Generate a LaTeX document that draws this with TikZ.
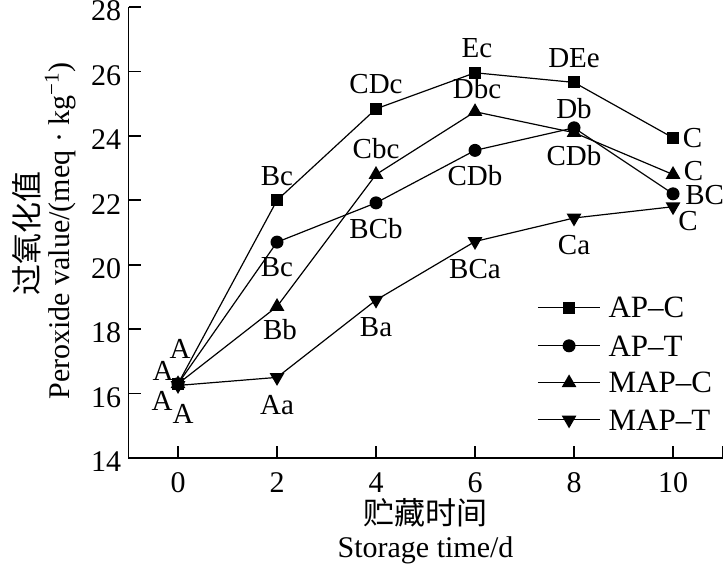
\documentclass[tikz,border=0pt]{standalone}
\usepackage{fontspec}
\setmainfont{Liberation Serif}
\newfontfamily\cjk{Noto Sans CJK SC}
\usetikzlibrary{positioning,shapes.geometric}
\begin{document}
\begin{tikzpicture}[x=24.75pt,y=16.1pt,
	every node/.style={font=\fontsize{14.5}{16}\selectfont,inner sep=0},
	sq/.style={rectangle,fill,minimum size=6pt},
	ci/.style={circle,fill,minimum size=6.5pt},
	tu/.style={regular polygon,regular polygon sides=3,fill,minimum size=8.5pt},
	td/.style={tu,shape border rotate=180},
	ticklab/.style={font=\fontsize{15}{17}\selectfont},
	leglab/.style={font=\fontsize{15.5}{17}\selectfont,anchor=west},
	series/.style={line width=0.6pt},
	node distance=4pt]
\useasboundingbox (-3.596,10.615) rectangle (11.05,28.22);
\coordinate (o) at (-1,14);
\coordinate (top) at (-1,28);
\coordinate (end) at (11,14);
\draw[line width=0.9pt] (top) -- (o) -- (end);
\foreach \y in {14,16,...,28}{
	\draw[line width=0.9pt] (-1,\y) -- ++(6pt,0);
	\node[ticklab,anchor=east] (y\y) at ([xshift=-3.5pt,yshift=-2pt]-1,\y) {\y};
}
\foreach \x in {0,2,...,10}{
	\draw[line width=0.9pt] (\x,14) -- ++(0,6pt);
	\node[ticklab,anchor=north] (x\x) at ([yshift=-7pt]\x,14) {\x};
}
\draw[line width=0.9pt] (end) -- ++(0,6pt);
\foreach \v [count=\i from 0] in {16.3,22.0,24.84,25.96,25.66,23.94}
	\coordinate (a\i) at ({2*\i},\v);
\foreach \v [count=\i from 0] in {16.3,20.7,21.92,23.55,24.25,22.2}
	\coordinate (b\i) at ({2*\i},\v);
\foreach \v [count=\i from 0] in {16.3,18.7,22.8,24.75,24.1,22.8}
	\coordinate (c\i) at ({2*\i},\v);
\foreach \v [count=\i from 0] in {16.25,16.5,18.9,20.72,21.45,21.8}
	\coordinate (d\i) at ({2*\i},\v);
\foreach \s in {a,b,c,d}
	\draw[series] (\s0) \foreach \i in {1,...,5}{-- (\s\i)};
\foreach \i in {0,...,5}{
	\node[td] (pd\i) at (d\i) {};
	\node[tu] (pc\i) at (c\i) {};
	\node[ci] (pb\i) at (b\i) {};
	\node[sq] (pa\i) at (a\i) {};
}
\node (la0) at ([xshift=1pt,yshift=17.5pt]pa0) {A};
\node (lb0) at ([xshift=-7.5pt,yshift=6.5pt]pa0) {A};
\node (lc0) at ([xshift=-8pt,yshift=-8.5pt]pa0) {A};
\node (ld0) at ([xshift=2.5pt,yshift=-15pt]pa0) {A};
\node[above=of pa1] (la1) {Bc};
\node[above=of pa2] (la2) {CDc};
\node[above=of pa3,xshift=1pt] (la3) {Ec};
\node[above=of pa4] (la4) {DEe};
\node[right=1.5pt of pa5] (la5) {C};
\node[below=of pb1] (lb1) {Bc};
\node[below=of pb2] (lb2) {BCb};
\node[below=of pb3] (lb3) {CDb};
\node[above=1pt of pb4] (lb4) {Db};
\node[right=2.5pt of pb5,yshift=-0.5pt] (lb5) {BC};
\node[below=of pc1,xshift=1.5pt] (lc1) {Bb};
\node[above=3pt of pc2] (lc2) {Cbc};
\node[above=1.5pt of pc3,xshift=1pt] (lc3) {Dbc};
\node[below=of pc4] (lc4) {CDb};
\node[right=2.5pt of pc5,yshift=1.5pt] (lc5) {C};
\node[below=of pd1] (ld1) {Aa};
\node[below=of pd2] (ld2) {Ba};
\node[below=of pd3] (ld3) {BCa};
\node[below=of pd4] (ld4) {Ca};
\node (ld5) at ([xshift=7.5pt,yshift=-7pt]pd5) {C};
\foreach \st/\txt/\yy in {sq/AP--C/18.66,ci/AP--T/17.48,tu/MAP--C/16.33,td/MAP--T/15.18}{
	\coordinate (ls\st) at (7.27,\yy);
	\coordinate (le\st) at (8.53,\yy);
	\draw[series] (ls\st) -- (le\st);
	\node[\st] (lm\st) at (7.9,\yy) {};
	\node[leglab] (lt\st) at (8.69,\yy) {\txt};
}
\node[font=\cjk\fontsize{15.5}{17}\selectfont] (xcn) at (5,12.29) {贮藏时间};
\node[font=\fontsize{15}{17}\selectfont] (xen) at (5,11.14) {Storage time/d};
\node[font=\cjk\fontsize{15.5}{17}\selectfont,rotate=90] (ycn) at (-3.05,20.96) {过氧化值};
\node[font=\fontsize{15}{17}\selectfont,rotate=90] (yen) at (-2.38,21.05) {Peroxide value/(meq · kg\textsuperscript{−1})};
\end{tikzpicture}
\end{document}
